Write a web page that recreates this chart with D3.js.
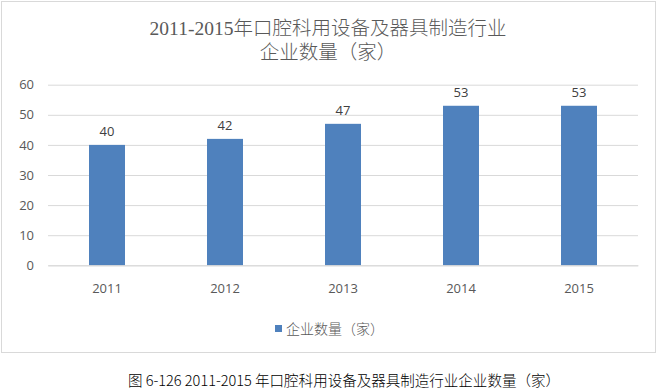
<!DOCTYPE html>
<html>
<head>
<meta charset="utf-8">
<script src="https://cdn.jsdelivr.net/npm/d3@7"></script>
<style>
    body { margin: 0; background: #fff; }
</style>
</head>
<body>
<div></div>
<script>
var years = ["2011", "2012", "2013", "2014", "2015"];
var counts = [40, 42, 47, 53, 53];
var yTicks = [0, 10, 20, 30, 40, 50, 60];
var titleLines = ["2011-2015年口腔科用设备及器具制造行业", "企业数量（家）"];
var legendLabel = "企业数量（家）";
var caption = "图 6-126 2011-2015 年口腔科用设备及器具制造行业企业数量（家）";

var width = 658;
var height = 390;
var barColor = "#4f81bd";
var gridColor = "#d9d9d9";
var textColor = "#595959";
var titleFont = "'Liberation Serif', 'Noto Sans CJK SC', serif";
var labelFont = "'Open Sans', 'Liberation Sans', sans-serif";

var svg = d3.select('div')
    .append('svg')
    .attr('width', width)
    .attr('height', height);

// marco del grafico
svg.append('rect')
    .attr('x', 1.5)
    .attr('y', 1.5)
    .attr('width', 654)
    .attr('height', 351)
    .attr('fill', 'white')
    .attr('stroke', gridColor)
    .attr('stroke-width', 1);

// titulo
svg.selectAll('text.title')
    .data(titleLines)
    .enter()
    .append('text')
    .attr('class', 'title')
    .attr('x', 328)
    .attr('y', (d, i) => 35 + i * 24)
    .attr('text-anchor', 'middle')
    .style('font-family', titleFont)
    .style('font-size', '19.5px')
    .style('font-weight', 300)
    .attr('fill', textColor)
    .text(d => d);

var plotLeft = 48;
var plotRight = 638;
var plotTop = 84.7;
var plotBottom = 265.3;

var xscale = d3.scaleBand()
    .domain(years)
    .range([plotLeft, plotRight])
    .paddingInner(0.695)
    .paddingOuter(0.3475);

var yscale = d3.scaleLinear()
    .domain([0, 60])
    .range([plotBottom, plotTop]);

// lineas de cuadricula
var yaxis = d3.axisLeft(yscale)
    .tickValues(yTicks)
    .tickSize(-(plotRight - plotLeft))
    .tickPadding(14);

var gy = svg.append('g')
    .attr('transform', 'translate(' + plotLeft + ',0)')
    .call(yaxis);
gy.select('.domain').remove();
gy.selectAll('line').attr('stroke', gridColor).attr('stroke-width', 1);
gy.selectAll('text')
    .attr('fill', textColor)
    .style('font-family', labelFont)
    .style('font-size', '13px');

// barras
svg.selectAll('rect.bar')
    .data(counts)
    .enter()
    .append('rect')
    .attr('class', 'bar')
    .attr('x', (d, i) => xscale(years[i]))
    .attr('y', d => yscale(d))
    .attr('width', xscale.bandwidth())
    .attr('height', d => yscale(0) - yscale(d))
    .attr('fill', barColor);

// etiquetas de datos
svg.selectAll('text.value')
    .data(counts)
    .enter()
    .append('text')
    .attr('class', 'value')
    .attr('x', (d, i) => xscale(years[i]) + xscale.bandwidth() / 2)
    .attr('y', d => yscale(d) - 9)
    .attr('text-anchor', 'middle')
    .attr('fill', '#404040')
    .style('font-family', labelFont)
    .style('font-size', '13px')
    .text(d => d);

// eje X
var xaxis = d3.axisBottom(xscale)
    .tickSize(0)
    .tickPadding(18);

var gx = svg.append('g')
    .attr('transform', 'translate(0,' + plotBottom + ')')
    .call(xaxis);
gx.select('.domain').attr('stroke', gridColor);
gx.selectAll('text')
    .attr('fill', textColor)
    .style('font-family', labelFont)
    .style('font-size', '13px');

// leyenda
svg.append('rect')
    .attr('x', 275)
    .attr('y', 325)
    .attr('width', 7)
    .attr('height', 7)
    .attr('fill', barColor);

svg.append('text')
    .attr('x', 286)
    .attr('y', 333.5)
    .attr('fill', textColor)
    .style('font-family', titleFont)
    .style('font-size', '14px')
    .style('font-weight', 300)
    .text(legendLabel);

// pie de figura
svg.append('text')
    .attr('x', 344)
    .attr('y', 386)
    .attr('text-anchor', 'middle')
    .attr('fill', '#000')
    .style('font-family', "'Noto Sans CJK SC', sans-serif")
    .style('font-size', '14.5px')
    .style('font-weight', 300)
    .attr('textLength', 432)
    .attr('lengthAdjust', 'spacingAndGlyphs')
    .text(caption);
</script>
</body>
</html>
